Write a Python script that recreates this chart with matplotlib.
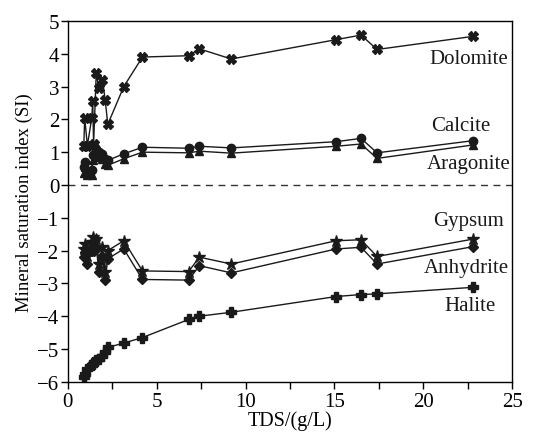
import matplotlib
matplotlib.use("Agg")
import matplotlib.pyplot as plt
from matplotlib.ticker import MultipleLocator

tds = [0.9, 0.95, 1.1, 1.35, 1.4, 1.45, 1.6, 1.75, 1.95, 2.1, 2.25,
       3.15, 4.2, 6.8, 7.4, 9.2, 15.1, 16.5, 17.4, 22.8]
dolomite = [1.2, 2.05, 1.2, 2.05, 2.55, 1.25, 3.4, 2.95, 3.2, 2.6, 1.85,
            3.0, 3.9, 3.94, 4.15, 3.84, 4.43, 4.57, 4.13, 4.53]
calcite = [0.55, 0.7, 0.4, 0.45, 0.9, 1.2, 1.1, 1.0, 0.95, 0.8, 0.75,
           0.95, 1.15, 1.12, 1.18, 1.13, 1.32, 1.42, 0.98, 1.35]
aragonite = [0.35, 0.55, 0.3, 0.3, 0.75, 1.05, 0.95, 0.85, 0.8, 0.65, 0.6,
             0.8, 1.0, 0.98, 1.03, 0.97, 1.18, 1.25, 0.81, 1.22]
gypsum = [-1.95, -1.8, -2.15, -1.75, -1.6, -1.75, -1.65, -2.4, -1.9, -2.65, -2.0,
          -1.7, -2.62, -2.64, -2.2, -2.41, -1.7, -1.67, -2.18, -1.65]
anhydrite = [-2.2, -2.05, -2.4, -2.0, -1.85, -2.0, -1.9, -2.65, -2.15, -2.9, -2.25,
             -1.95, -2.88, -2.9, -2.46, -2.68, -1.95, -1.9, -2.41, -1.88]
halite = [-5.85, -5.75, -5.6, -5.5, -5.45, -5.4, -5.35, -5.3, -5.2, -5.1, -4.95,
          -4.82, -4.65, -4.1, -4.0, -3.88, -3.4, -3.34, -3.32, -3.12]

names = ["Dolomite", "Calcite", "Aragonite", "Gypsum", "Anhydrite", "Halite"]
label_x = [22.55, 22.1, 22.55, 22.55, 22.45, 22.65]
label_y = [3.86, 1.81, 0.64, -1.09, -2.51, -3.68]

plt.rcParams['font.family'] = ['Liberation Serif', 'DejaVu Serif']

fig = plt.figure(figsize=(5.34, 4.39), dpi=100)
ax = fig.add_axes([0.127, 0.128, 0.832, 0.822])

series = [
    (dolomite, 'X', 7),
    (calcite, 'o', 6),
    (aragonite, '^', 6),
    (gypsum, '*', 9),
    (anhydrite, 'D', 5),
    (halite, 'P', 7),
]
for vals, mk, ms in series:
    ax.plot(tds, vals, color='#1a1a1a', lw=1.0, marker=mk, ms=ms,
            mfc='#1a1a1a', mec='#1a1a1a')

ax.axhline(0, color='#333333', lw=1.0, ls=(0, (5, 4)))

for n, lx, ly in zip(names, label_x, label_y):
    ax.text(lx, ly, n, ha='center', va='center', fontsize=15, color='#1a1a1a')

ax.set_xlim(0, 25)
ax.set_ylim(-6, 5)
ax.xaxis.set_major_locator(MultipleLocator(5))
ax.xaxis.set_minor_locator(MultipleLocator(2.5))
ax.tick_params(axis='both', which='major', labelsize=15, direction='out', length=5, width=1)
ax.tick_params(axis='x', which='minor', direction='out', length=5, width=1)
ax.set_yticks(range(-6, 6))
ax.set_yticklabels([('\u2212%d' % abs(v)) if v < 0 else str(v) for v in range(-6, 6)])
ax.tick_params(axis='x', pad=2)
ax.tick_params(axis='y', pad=1)
ax.set_xlabel('TDS/(g/L)', fontsize=14.5, labelpad=0)
ax.set_ylabel('Mineral saturation index (SI)', fontsize=13.5, labelpad=3)
for s in ax.spines.values():
    s.set_linewidth(1.0)

fig.savefig('out.png', dpi=100)
